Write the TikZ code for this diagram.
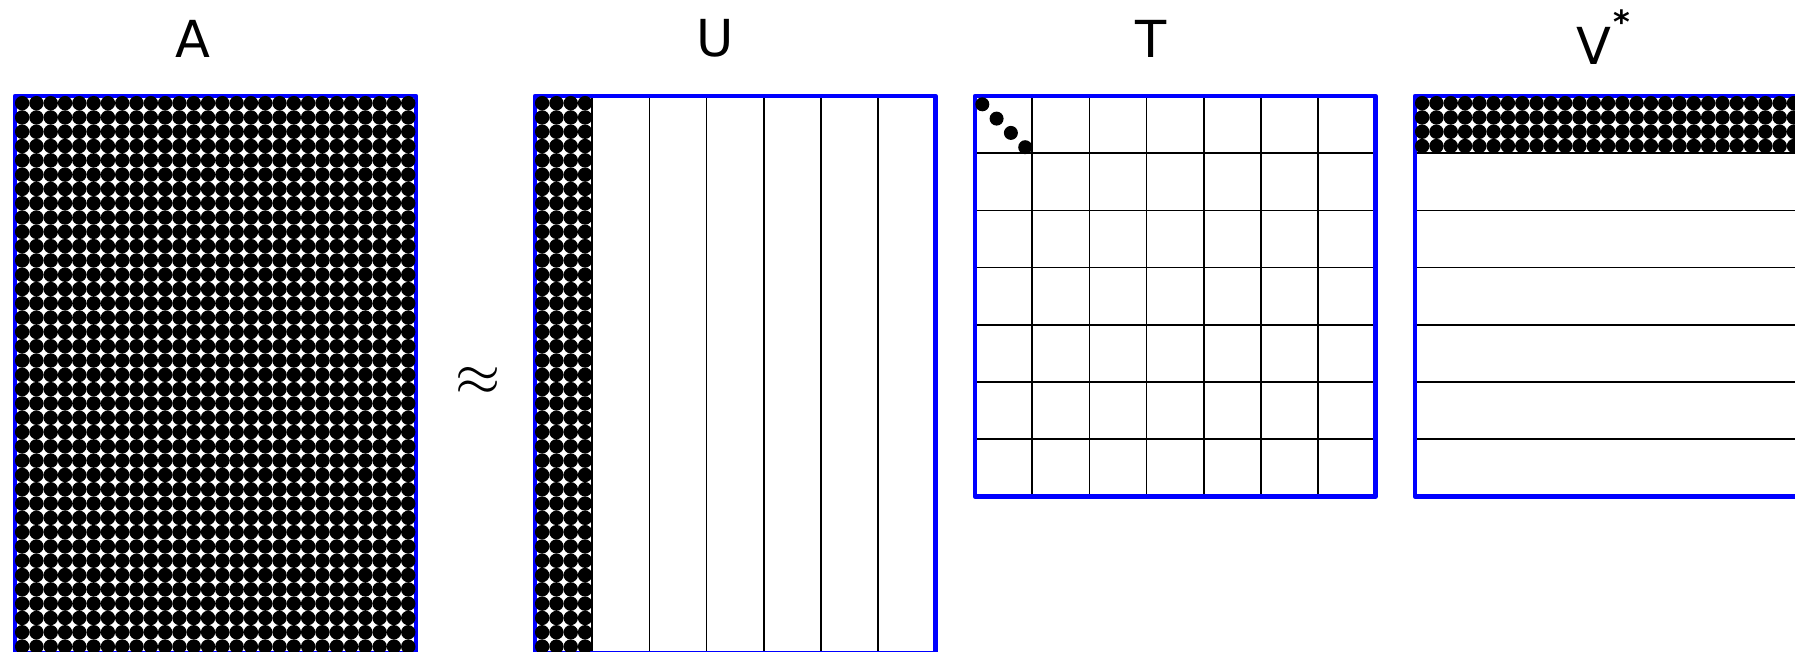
\documentclass[tikz,border=0pt]{standalone}
\usepackage{fontspec}
\setmainfont{DejaVu Sans}
\begin{document}
\begin{tikzpicture}[x=1pt,y=-1pt,
  border/.style={draw=blue,line width=4.5pt,line join=round,line cap=round},
  gridline/.style={draw=black,line width=1.5pt},
  dotfill/.style={fill=black},
  lab/.style={inner sep=0pt,font=\fontsize{51}{51}\selectfont}]
\useasboundingbox (0,0) rectangle (1795,652);
% ---------- labels ----------
\node[lab,anchor=base] (labA) at (193,58) {A};
\node[lab,anchor=base] (labU) at (715,57) {U};
\node[lab,anchor=base] (labT) at (1151,58) {T};
\node[lab,anchor=base west] (labV) at (1576,65) {V\hspace{2pt}\raisebox{31pt}{\fontsize{32}{32}\selectfont\bfseries *}};
\node[inner sep=0pt] (approx) at (478.5,381.5) {\scalebox{5.8}{$\approx$}};
% ---------- A ----------
\draw[border] (15,96) rectangle (416,653.5);
\begin{scope}
  \clip (15,96) rectangle (416,653.5);
  \foreach \i in {0,...,27}{
    \foreach \j in {0,...,38}{
      \fill[dotfill] ({22.15+14.3*\i},{103.15+14.3*\j}) circle (7.2pt);
    }
  }
\end{scope}
% ---------- U ----------
\foreach \k in {1,...,6}{
  \draw[gridline] ({535+57.2*\k},96) -- ({535+57.2*\k},653.5);
}
\draw[border] (535,96) rectangle (935.5,653.5);
\begin{scope}
  \clip (535,96) rectangle (592.2,653.5);
  \foreach \i in {0,...,3}{
    \foreach \j in {0,...,38}{
      \fill[dotfill] ({542.15+14.3*\i},{103.15+14.3*\j}) circle (7.2pt);
    }
  }
\end{scope}
% ---------- T ----------
\foreach \k in {1,...,6}{
  \draw[gridline] ({975+57.2*\k},96) -- ({975+57.2*\k},496.5);
  \draw[gridline] (975,{96+57.2*\k}) -- (1375.5,{96+57.2*\k});
}
\draw[border] (975,96) rectangle (1375.5,496.5);
\foreach \k in {0,...,3}{
  \fill[dotfill] ({982.3+14.3*\k},{104.3+14.3*\k}) circle (7pt);
}
% ---------- V* ----------
\foreach \k in {1,...,6}{
  \draw[gridline] (1415,{96+57.2*\k}) -- (1815.5,{96+57.2*\k});
}
\draw[border] (1415,96) rectangle (1815.5,496.5);
\begin{scope}
  \clip (1415,96) rectangle (1815.5,153.2);
  \foreach \i in {0,...,27}{
    \foreach \j in {0,...,3}{
      \fill[dotfill] ({1422.15+14.3*\i},{103.15+14.3*\j}) circle (7.2pt);
    }
  }
\end{scope}
\end{tikzpicture}
\end{document}
